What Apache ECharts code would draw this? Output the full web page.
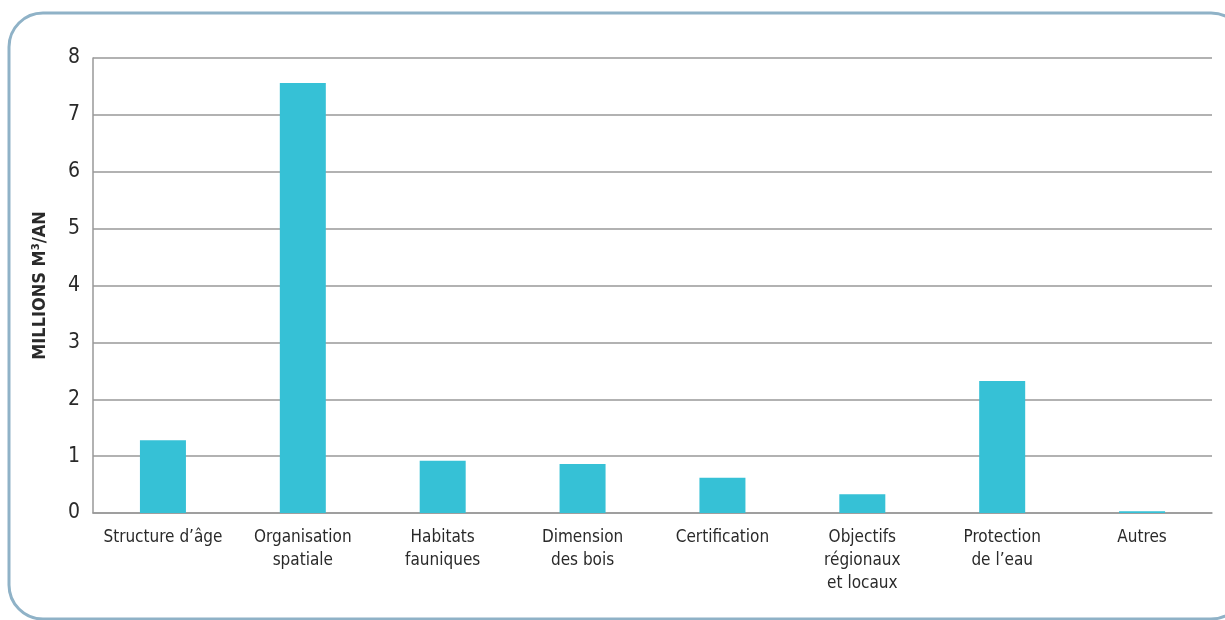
<!DOCTYPE html>
<html>
<head>
<meta charset="utf-8">
<script src="https://cdn.jsdelivr.net/npm/echarts@6/dist/echarts.min.js"></script>
<style>
  html, body { margin: 0; padding: 0; background: #fff; }
  #chart { width: 1225px; height: 620px; }
</style>
</head>
<body>
<div id="chart"></div>
<script>
const categories = [
  'Structure d’âge',
  'Organisation\nspatiale',
  'Habitats\nfauniques',
  'Dimension\ndes bois',
  'Certification',
  'Objectifs\nrégionaux\net locaux',
  'Protection\nde l’eau',
  'Autres'
]
const values = [1.28, 7.56, 0.92, 0.86, 0.62, 0.33, 2.32, 0.03]
const yTicks = [0, 1, 2, 3, 4, 5, 6, 7, 8]

const font = '"DejaVu Sans Condensed", "Liberation Sans", sans-serif'
const chart = echarts.init(document.getElementById('chart'))

const option = {
  animation: false,
  backgroundColor: '#fff',
  graphic: [
    {
      type: 'rect',
      shape: { x: 9, y: 13, width: 1236, height: 606, r: 34 },
      style: { fill: 'none', stroke: '#8fb2c7', lineWidth: 3 },
      silent: true
    }
  ],
  grid: {
    left: 93,
    right: 13,
    top: 58,
    bottom: 107
  },
  xAxis: {
    type: 'category',
    data: categories,
    axisTick: { show: false },
    axisLine: { lineStyle: { color: '#999', width: 1.5 } },
    axisLabel: {
      interval: 0,
      margin: 13,
      color: '#2a2a2a',
      fontFamily: font,
      fontSize: 17,
      lineHeight: 23
    }
  },
  yAxis: {
    type: 'value',
    min: yTicks[0],
    max: yTicks[yTicks.length - 1],
    interval: 1,
    name: 'MILLIONS M³/AN',
    nameLocation: 'middle',
    nameGap: 44,
    nameTextStyle: {
      color: '#2a2a2a',
      fontFamily: font,
      fontWeight: 'bold',
      fontSize: 18
    },
    axisLine: { show: true, lineStyle: { color: '#999', width: 1.5 } },
    axisTick: { show: false },
    axisLabel: {
      margin: 13,
      color: '#2a2a2a',
      fontFamily: font,
      fontSize: 21
    },
    splitLine: { lineStyle: { color: '#999', width: 1.5 } }
  },
  series: [
    {
      type: 'bar',
      data: values,
      barWidth: 46,
      itemStyle: { color: '#36c1d6' }
    }
  ]
}
chart.setOption(option)
</script>
</body>
</html>
